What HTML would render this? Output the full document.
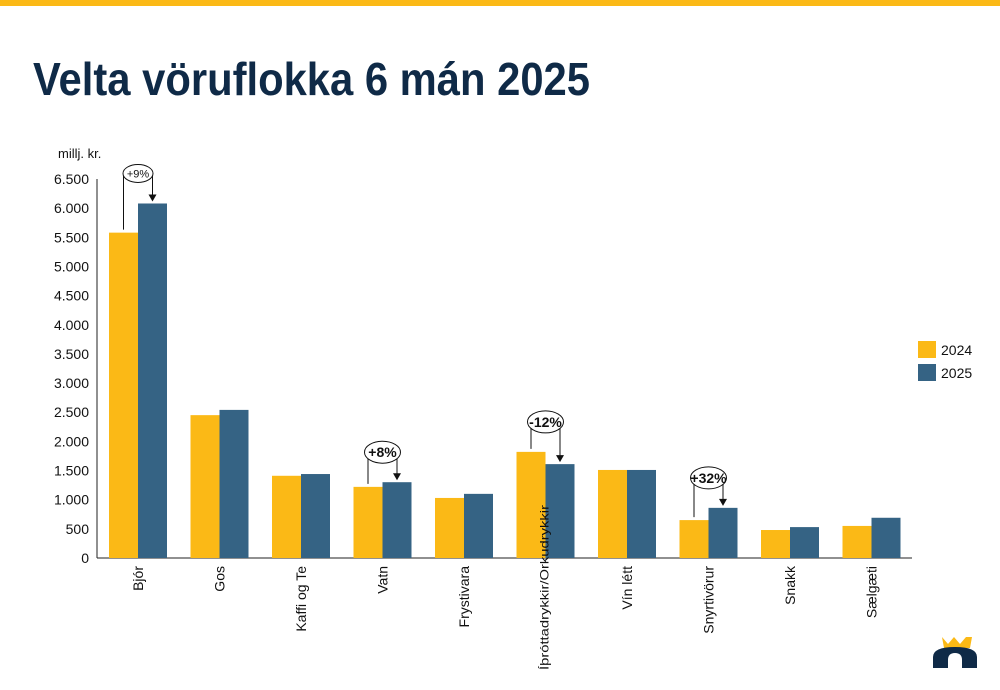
<!DOCTYPE html>
<html><head><meta charset="utf-8"><style>
body{margin:0;width:1000px;height:685px;background:#fff;overflow:hidden;font-family:"Liberation Sans",sans-serif}
</style></head><body>
<svg width="1000" height="685" xmlns="http://www.w3.org/2000/svg" font-family="Liberation Sans, sans-serif">
<rect x="0" y="0" width="1000" height="6" fill="#fbb916"/>
<text x="33" y="95" font-size="46" font-weight="bold" fill="#0f2a47" textLength="557" lengthAdjust="spacingAndGlyphs">Velta vöruflokka 6 mán 2025</text>
<text x="58" y="158" font-size="13" fill="#111">millj. kr.</text>
<g id="axes"></g><g id="bars"></g><g id="ann"></g>
<g>
<rect x="918" y="341" width="18" height="17" fill="#fbb916"/>
<text x="941" y="355" font-size="14" fill="#111">2024</text>
<rect x="918" y="364" width="18" height="17" fill="#356384"/>
<text x="941" y="378" font-size="14" fill="#111">2025</text>
</g>
<g>
<polygon points="942,637 948,644 954,637 960,644 966,637 972,637 970,648 944,648 942,637" fill="#fbb916"/>
<path d="M933,668 L933,657 Q933,647 955,647 Q977,647 977,657 L977,668 L962,668 L962,660 Q962,653 955,653 Q948,653 948,660 L948,668 Z" fill="#0f2a47"/>
</g>
</svg>
<script>
const categories=["Bjór","Gos","Kaffi og Te","Vatn","Frystivara","Íþróttadrykkir/Orkudrykkir","Vín létt","Snyrtivörur","Snakk","Sælgæti"];
const values2024=[5580,2450,1410,1220,1030,1820,1510,650,480,550];
const values2025=[6080,2540,1440,1300,1100,1610,1510,860,530,690];
const yTicks=[0,500,1000,1500,2000,2500,3000,3500,4000,4500,5000,5500,6000,6500];
const annotations=[{i:0,label:"+9%",bold:false},{i:3,label:"+8%",bold:true},{i:5,label:"-12%",bold:true},{i:7,label:"+32%",bold:true}];
const NS="http://www.w3.org/2000/svg";
const x0=97,x1=912,y0=558,yTop=179,maxV=6500;
const bw=(x1-x0)/categories.length;
function y(v){return y0-(v/maxV)*(y0-yTop);}
function xc(i){return x0+bw*i;}
function mk(tag,attrs,parent){const e=document.createElementNS(NS,tag);for(const k in attrs)e.setAttribute(k,attrs[k]);parent.appendChild(e);return e;}
const axes=document.getElementById('axes'),bars=document.getElementById('bars'),ann=document.getElementById('ann');
let a=mk('line',{x1:x0,y1:yTop,x2:x0,y2:y0,stroke:'#222','stroke-width':1},axes);


a=mk('line',{x1:x0,y1:y0,x2:x1,y2:y0,stroke:'#222','stroke-width':1},axes);


yTicks.forEach(t=>{const s=t===0?"0":t.toLocaleString('de-DE');
 const e=mk('text',{x:89,y:y(t)+5,'font-size':14,'text-anchor':'end',fill:'#111'},axes);e.textContent=s;
 
 });
categories.forEach((c,i)=>{
 const bx=xc(i)+12,w=29;
 let r=mk('rect',{x:bx,y:y(values2024[i]),width:w,height:y0-y(values2024[i]),fill:'#fbb916'},bars);
 
 
 r=mk('rect',{x:bx+w,y:y(values2025[i]),width:w,height:y0-y(values2025[i]),fill:'#356384'},bars);
 
 
 const cx=bx+w;
 let t;
 if(c.length>15){
  const ly=670,lx=cx+3;
  t=mk('text',{x:lx,y:ly,'font-size':12,'text-anchor':'start',fill:'#111',textLength:165,lengthAdjust:'spacingAndGlyphs',transform:`rotate(-90 ${lx} ${ly})`},bars);
 } else {
  const ly=566;
  t=mk('text',{x:cx+5,y:ly,'font-size':14,'text-anchor':'end',fill:'#111',transform:`rotate(-90 ${cx+5} ${ly})`},bars);
 }
 t.textContent=c;
 
 
});
annotations.forEach(an=>{
 const i=an.i,bx=xc(i)+12,l=bx+14.5,r=bx+43.5,cx=bx+29;
 const t1=y(values2024[i]),t2=y(values2025[i]);
 const ey=Math.min(t1,t2)-30;
 const g=mk('g',{},ann);
 
 
 mk('path',{d:`M${l},${t1-3} L${l},${ey} L${cx-14},${ey}`,stroke:'#111',fill:'none','stroke-width':1},g);
 mk('path',{d:`M${cx+14},${ey} L${r},${ey} L${r},${t2-8}`,stroke:'#111',fill:'none','stroke-width':1},g);
 mk('polygon',{points:`${r-4},${t2-9} ${r+4},${t2-9} ${r},${t2-2}`,fill:'#111'},g);
 mk('ellipse',{cx:cx,cy:ey,rx:an.bold?18:15,ry:an.bold?11:9,fill:'#fff',stroke:'#111','stroke-width':1},g);
 const tx=mk('text',{x:cx,y:ey+(an.bold?5:4),'font-size':an.bold?14:11,'font-weight':an.bold?'bold':'normal','text-anchor':'middle',fill:'#111'},g);
 tx.textContent=an.label;
});
</script>
</body></html>
